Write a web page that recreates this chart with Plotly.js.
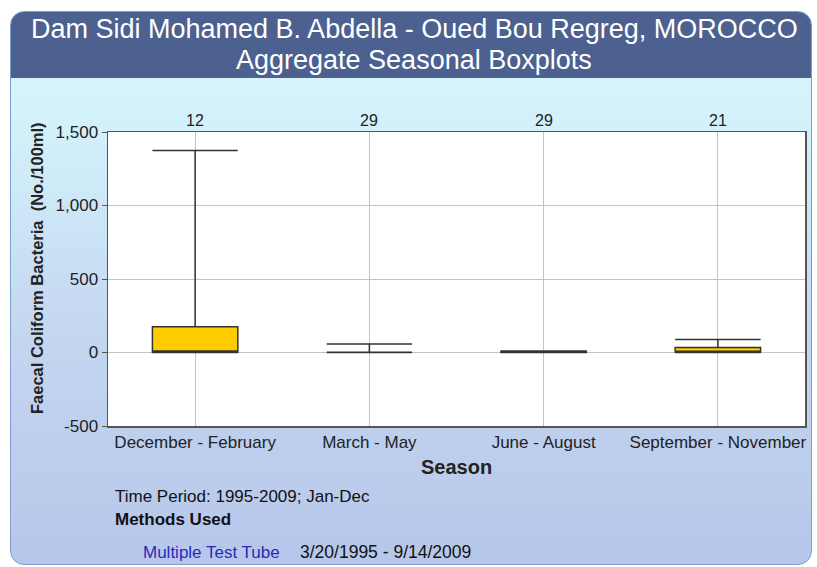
<!DOCTYPE html>
<html>
<head>
<meta charset="utf-8">
<script src="https://cdn.plot.ly/plotly-3.0.1.min.js"></script>
<style>
  html, body { margin: 0; padding: 0; background: #ffffff; }
  #panel {
    position: absolute; left: 10px; top: 11px; width: 802px; height: 554px;
    border-radius: 14px; border: 1px solid #7d9fcf; box-sizing: border-box;
    background: linear-gradient(to bottom, #d9fafe 0px, #d3f1fb 110px, #c3d6f0 330px, #b6c6ea 554px);
    overflow: hidden;
  }
  #bar { position: absolute; left: 0; top: 0; width: 100%; height: 66px; background: #4c6190; }
  #chart { position: absolute; left: 0; top: 0; width: 817px; height: 567px; }
</style>
</head>
<body>
<div id="panel"><div id="bar"></div></div>
<div id="chart"></div>
<script>
// ---- data ----
const seasons = ["December - February", "March - May", "June - August", "September - November"];
const counts = [12, 29, 29, 21];
const lowerValues = [0, 0, 0, 0];
const q1Values = [2, 1, 0, 2];
const medianValues = [10, 1, 4, 4];
const q3Values = [175, 1, 8, 34];
const upperValues = [1375, 57, 10, 88];
const yTickValues = [-500, 0, 500, 1000, 1500];
const yTickLabels = ["-500", "0", "500", "1,000", "1,500"];

// plot area pixel geometry (for placing free text)
const L = 108, R = 805, T = 132, B = 426;
const px = x => (x - L) / (R - L);
const py = y => (B - y) / (B - T);

const trace = {
  type: 'box',
  x: seasons,
  q1: q1Values,
  median: medianValues,
  q3: q3Values,
  lowerfence: lowerValues,
  upperfence: upperValues,
  fillcolor: '#ffcc00',
  line: { color: '#333333', width: 1.5 },
  width: 0.49,
  whiskerwidth: 1,
  boxpoints: false,
  hoverinfo: 'skip',
  showlegend: false
};

const font = "Liberation Sans, Arial, sans-serif";
const annotations = [];
seasons.forEach((s, i) => {
  annotations.push({ x: s, xref: 'x', y: 1, yref: 'paper', yanchor: 'bottom', yshift: 1,
    text: String(counts[i]), showarrow: false, font: { family: font, size: 16, color: '#222' } });
});
annotations.push(
  { x: px(414), xref: 'paper', y: py(29), yref: 'paper', text: 'Dam Sidi Mohamed B. Abdella - Oued Bou Regreg, MOROCCO',
    showarrow: false, xanchor: 'center', yanchor: 'middle', font: { family: font, size: 27, color: '#ffffff' } },
  { x: px(414), xref: 'paper', y: py(60), yref: 'paper', text: 'Aggregate Seasonal Boxplots',
    showarrow: false, xanchor: 'center', yanchor: 'middle', font: { family: font, size: 27, color: '#ffffff' } },
  { x: px(37), xref: 'paper', y: py(268), yref: 'paper', text: '<b>Faecal Coliform Bacteria  (No./100ml)</b>',
    textangle: -90, showarrow: false, xanchor: 'center', yanchor: 'middle', font: { family: font, size: 16.5, color: '#222' } },
  { x: px(456), xref: 'paper', y: py(467), yref: 'paper', text: '<b>Season</b>',
    showarrow: false, xanchor: 'center', yanchor: 'middle', font: { family: font, size: 20, color: '#222' } },
  { x: px(113), xref: 'paper', y: py(496), yref: 'paper', text: 'Time Period: 1995-2009; Jan-Dec',
    showarrow: false, xanchor: 'left', yanchor: 'middle', font: { family: font, size: 17, color: '#111' } },
  { x: px(113), xref: 'paper', y: py(519), yref: 'paper', text: '<b>Methods Used</b>',
    showarrow: false, xanchor: 'left', yanchor: 'middle', font: { family: font, size: 17, color: '#111' } },
  { x: px(141), xref: 'paper', y: py(552), yref: 'paper', text: 'Multiple Test Tube',
    showarrow: false, xanchor: 'left', yanchor: 'middle', font: { family: font, size: 17, color: '#2a2ab8' } },
  { x: px(298), xref: 'paper', y: py(552), yref: 'paper', text: '3/20/1995 - 9/14/2009',
    showarrow: false, xanchor: 'left', yanchor: 'middle', font: { family: font, size: 17.5, color: '#111' } }
);

const layout = {
  width: 817, height: 567,
  margin: { l: L, r: 817 - R, t: T, b: 567 - B, pad: 0 },
  paper_bgcolor: 'rgba(0,0,0,0)',
  plot_bgcolor: '#ffffff',
  showlegend: false,
  font: { family: font, size: 13, color: '#222' },
  xaxis: {
    type: 'category', categoryarray: seasons, range: [-0.5, 3.5],
    showgrid: true, gridcolor: '#c4c4c4', gridwidth: 1,
    showline: true, linecolor: '#555555', linewidth: 1.5, mirror: true,
    ticks: '', tickfont: { family: font, size: 17, color: '#222' }, fixedrange: true
  },
  yaxis: {
    range: [-500, 1500], tickvals: yTickValues, ticktext: yTickLabels,
    showgrid: true, gridcolor: '#c4c4c4', gridwidth: 1,
    zeroline: true, zerolinecolor: '#c4c4c4', zerolinewidth: 1,
    showline: true, linecolor: '#555555', linewidth: 1.5, mirror: true,
    ticks: 'outside', ticklen: 5, tickcolor: '#555555',
    tickfont: { family: font, size: 17, color: '#222' }, fixedrange: true
  },
  annotations: annotations
};

Plotly.newPlot('chart', [trace], layout, { displayModeBar: false, staticPlot: true });
</script>
</body>
</html>
